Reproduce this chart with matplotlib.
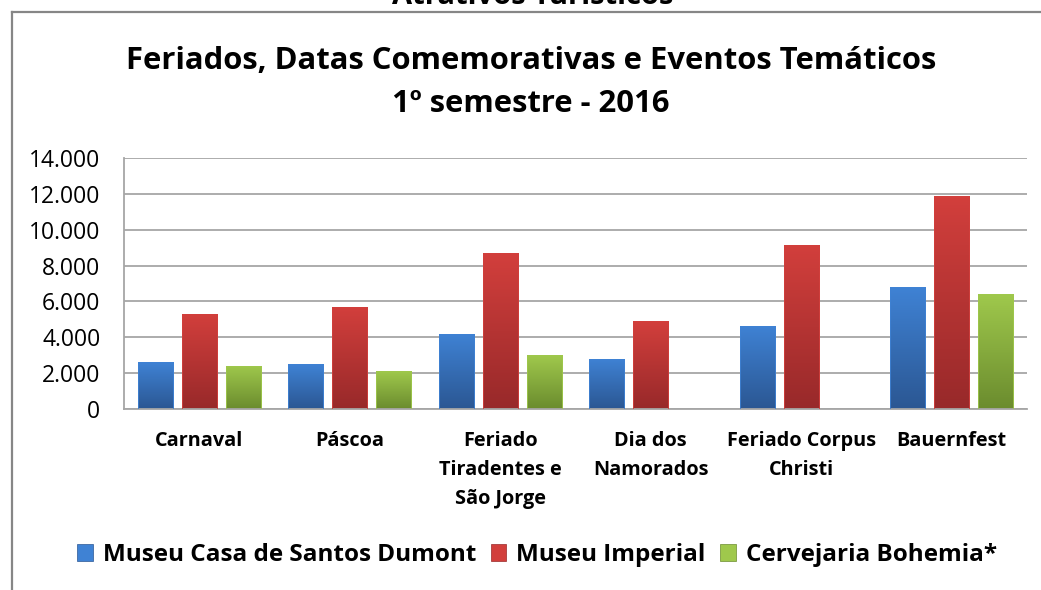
import numpy as np
import matplotlib
matplotlib.use("Agg")
import matplotlib.pyplot as plt
from matplotlib.patches import Patch
from matplotlib.lines import Line2D
from matplotlib.colors import LinearSegmentedColormap
from matplotlib.ticker import FuncFormatter, MultipleLocator

plt.rcParams['font.family'] = ['Open Sans', 'DejaVu Sans']

categories = ["Carnaval", "Páscoa", "Feriado\nTiradentes e\nSão Jorge",
              "Dia dos\nNamorados", "Feriado Corpus\nChristi", "Bauernfest"]
santos_dumont = [2600, 2500, 4200, 2800, 4650, 6800]
museu_imperial = [5300, 5700, 8700, 4900, 9150, 11900]
bohemia = [2400, 2100, 3000, 0, 0, 6400]
series_names = ["Museu Casa de Santos Dumont", "Museu Imperial", "Cervejaria Bohemia*"]

# top / bottom colours of the gradient fill
grad = [("#3f82d4", "#2b5793"), ("#d23f3c", "#98292a"), ("#9fc84c", "#6b8c2e")]

W, H = 1041, 590
fig = plt.figure(figsize=(W / 100, H / 100), dpi=100)
ax = fig.add_axes([124 / W, 1 - 409 / H, 903 / W, 251 / H])

x = np.arange(len(categories))
width = 0.233
step = 0.292
ax.set_xlim(-0.5, len(categories) - 0.5)
ax.set_ylim(0, 14000)

for i, vals in enumerate([santos_dumont, museu_imperial, bohemia]):
    bars = ax.bar(x + (i - 1) * step, vals, width, facecolor="none",
                  edgecolor=grad[i][0], linewidth=0.6, zorder=3)
    cmap = LinearSegmentedColormap.from_list("g%d" % i, [grad[i][1], grad[i][0]])
    for b in bars:
        if b.get_height() <= 0:
            continue
        x0, y0 = b.get_x(), b.get_y()
        im = ax.imshow(np.linspace(0, 1, 64).reshape(-1, 1), cmap=cmap,
                       origin="lower", aspect="auto", zorder=2,
                       extent=[x0, x0 + b.get_width(), y0, y0 + b.get_height()])
        im.set_clip_path(b)

ax.set_xlim(-0.5, len(categories) - 0.5)
ax.set_ylim(0, 14000)

ax.yaxis.set_major_locator(MultipleLocator(2000))
ax.yaxis.set_major_formatter(FuncFormatter(lambda v, p: "{:,.0f}".format(v).replace(",", ".")))
ax.grid(axis="y", color="#a6a6a6", linewidth=1.3, zorder=0)
ax.set_axisbelow(True)
for s in ["top", "right"]:
    ax.spines[s].set_visible(False)
for s in ["left", "bottom"]:
    ax.spines[s].set_color("#a6a6a6")
    ax.spines[s].set_linewidth(1.3)
ax.tick_params(axis="y", length=0, pad=17, labelsize=16.5)
ax.tick_params(axis="x", length=0, pad=16)
ax.set_xticks(x)
ax.set_xticklabels(categories, fontsize=14.3, fontweight="bold", linespacing=1.6)

fig.text(533 / W, 1 - 4 / H, "Atrativos Turísticos", ha="center", va="baseline",
         fontsize=21, fontweight="bold")
fig.text(531 / W, 1 - 69 / H, "Feriados, Datas Comemorativas e Eventos Temáticos",
         ha="center", va="baseline", fontsize=22.3, fontweight="bold")
fig.text(531 / W, 1 - 112 / H, "1º semestre - 2016", ha="center", va="baseline",
         fontsize=22.3, fontweight="bold")

# chart frame
fig.add_artist(Line2D([12 / W, 12 / W], [0, 1 - 12 / H], color="#868686", linewidth=1.6))
fig.add_artist(Line2D([12 / W, 1], [1 - 12 / H, 1 - 12 / H], color="#868686", linewidth=1.6))

handles = [Patch(facecolor=g[0], edgecolor=g[1], linewidth=0.5) for g in grad]
fig.legend(handles, series_names, loc="center", bbox_to_anchor=(537 / W, 1 - 555 / H),
           ncol=3, frameon=False, handlelength=0.65, handleheight=0.65,
           handletextpad=0.4, columnspacing=0.6,
           prop={"size": 17.5, "weight": "bold"})

fig.savefig("out.png", dpi=100)
